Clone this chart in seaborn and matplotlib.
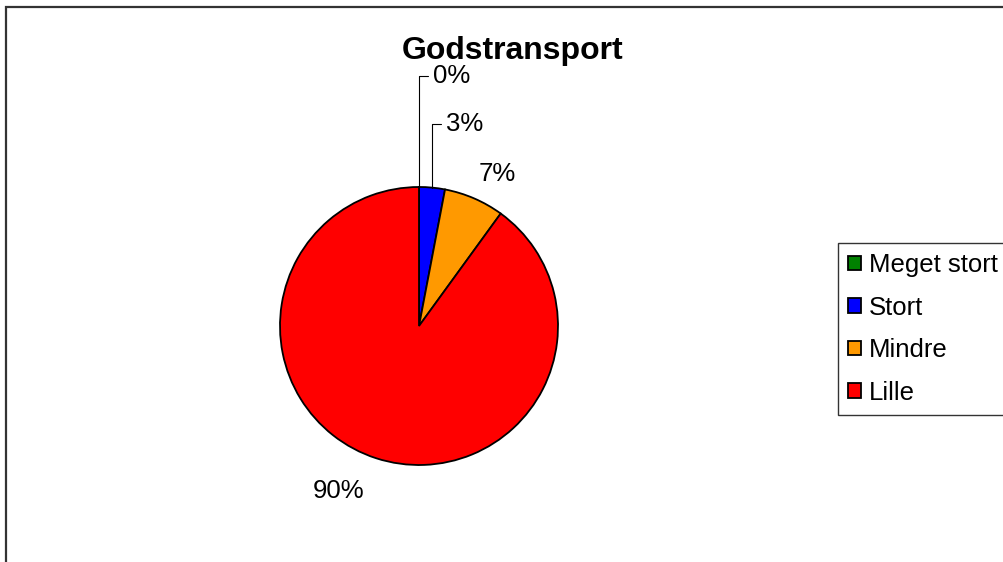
import matplotlib
matplotlib.use("Agg")
import matplotlib.pyplot as plt
import seaborn as sns
import numpy as np
from matplotlib.patches import Rectangle

# data
categories = ["Meget stort", "Stort", "Mindre", "Lille"]
shares = [0, 3, 7, 90]
pct_labels = ["0%", "3%", "7%", "90%"]
slice_colors = ["#008000", "#0000FF", "#FF9900", "#FF0000"]

sns.set_theme(style="white")
plt.rcParams["font.family"] = ["Liberation Sans", "DejaVu Sans"]
plt.rcParams["text.color"] = "black"

fig = plt.figure(figsize=(10.04, 5.62), dpi=100)
fig.patch.set_facecolor("white")

# outer chart frame (cropped on right and bottom)
fig.patches.append(Rectangle((6 / 1004, -0.2), 2.0, 1.2 - 7 / 562,
                             transform=fig.transFigure, fill=False,
                             edgecolor="#333333", linewidth=1.6))

ax = fig.add_axes([141 / 1004, -42 / 562, 556 / 1004, 556 / 562])
ax.axis("off")

wedges, _ = ax.pie(shares, colors=slice_colors, startangle=90, counterclock=False,
                   radius=1, wedgeprops=dict(edgecolor="black", linewidth=1.3))
ax.set_xlim(-2, 2)
ax.set_ylim(-2, 2)
ax.set_aspect("equal")

# label placement: (distance factor, angle shift, leader line)
label_opts = [(1.80, 0, True), (1.45, 0, True), (1.23, 4, False), (1.32, 8, False)]
for w, lab, (dist, shift, leader) in zip(wedges, pct_labels, label_opts):
    mid = np.deg2rad((w.theta1 + w.theta2) / 2)
    edge = (np.cos(mid), np.sin(mid))
    if leader:
        tx = edge[0] + 0.1
        ty = dist
        ax.annotate(lab, xy=edge, xytext=(tx, ty), ha="left", va="center",
                    fontsize=18.5, annotation_clip=False,
                    arrowprops=dict(arrowstyle="-", color="black", lw=0.8,
                                    shrinkA=1, shrinkB=0,
                                    connectionstyle="angle,angleA=0,angleB=90,rad=0"))
    else:
        ang = mid - np.deg2rad(shift)
        ax.text(dist * np.cos(ang), dist * np.sin(ang), lab, ha="center", va="center",
                fontsize=18.5)

fig.text(513 / 1004, 1 - 51 / 562, "Godstransport", ha="center", va="center",
         fontsize=23, fontweight="bold")

leg = fig.legend(wedges, categories, loc="upper left",
                 bbox_to_anchor=(838 / 1004, 1 - 243 / 562),
                 fontsize=18.5, frameon=True, fancybox=False, handlelength=0.5,
                 handleheight=0.5, handletextpad=0.3, labelspacing=0.72,
                 borderpad=0.4, borderaxespad=0)
leg.get_frame().set_edgecolor("black")
leg.get_frame().set_linewidth(1.0)

fig.savefig("out.png", dpi=100)
